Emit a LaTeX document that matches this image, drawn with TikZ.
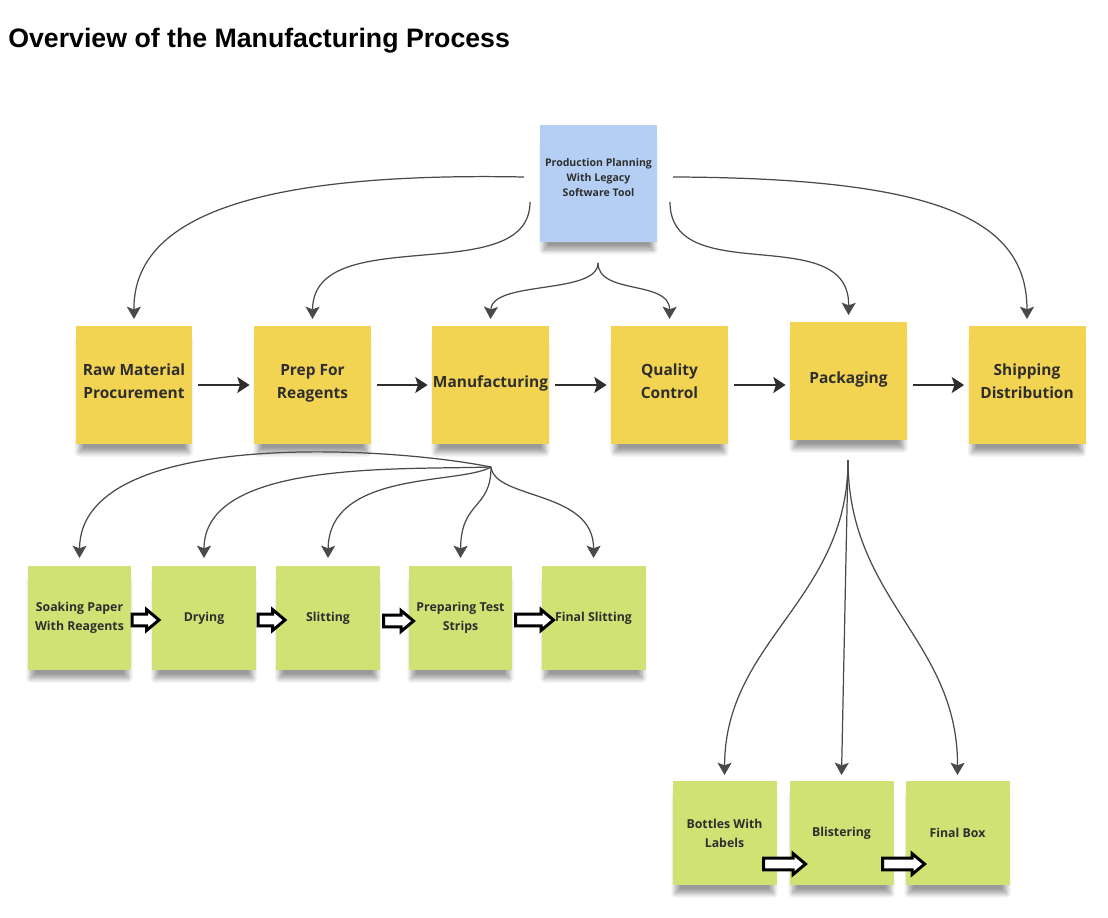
\documentclass[tikz,border=0pt]{standalone}
\usepackage{fontspec}
\newfontfamily\notefont{Open Sans}
\newfontfamily\titlefont{Liberation Sans}
\usepackage{xcolor}
\definecolor{planfill}{HTML}{B4CFF3}
\definecolor{stepfill}{HTML}{F2D352}
\definecolor{subfill}{HTML}{D1E274}
\definecolor{inkcolor}{HTML}{2E2E2E}
\definecolor{linkcolor}{HTML}{4A4A4A}
\usepackage{tikz}
\usetikzlibrary{arrows.meta,shapes.arrows,shadows.blur}
\tikzset{
    note/.style={
        rectangle,
        text=inkcolor,
        align=center,
        inner sep=0pt,
        blur shadow={shadow xshift=0pt, shadow yshift=-7pt, shadow scale=0.94,
                     shadow opacity=40, shadow blur steps=8, shadow blur radius=3pt},
    },
    planbox/.style={
        note,
        fill=planfill,
        minimum width=2.34cm,
        minimum height=2.34cm,
        text depth=6.8pt,
        font=\notefont\bfseries\fontsize{6}{8.8}\selectfont,
    },
    stepbox/.style={
        note,
        fill=stepfill,
        minimum width=2.34cm,
        minimum height=2.38cm,
        text depth=4pt,
        font=\notefont\bfseries\fontsize{8.8}{13}\selectfont,
    },
    subbox/.style={
        note,
        fill=subfill,
        minimum width=2.08cm,
        minimum height=2.08cm,
        font=\notefont\bfseries\fontsize{7}{10.8}\selectfont,
    },
    link/.style={
        -{Stealth[width=8pt,length=7pt,inset=1.5pt]},
        line width=0.7pt,
        linkcolor,
    },
    flow/.style={
        -{Stealth[width=9pt,length=7pt,inset=1.5pt]},
        line width=1.6pt,
        inkcolor,
        shorten <=3pt,
        shorten >=2.3pt,
    },
    pusharrow/.style={
        single arrow,
        draw=black,
        fill=white,
        line width=1.7pt,
        minimum height=0.54cm,
        inner sep=2.5pt,
        single arrow head extend=2.6pt,
        single arrow tip angle=80,
    },
}

\begin{document}
\begin{tikzpicture}[x=0.02cm,y=-0.02cm]
    \useasboundingbox (0,0) rectangle (1108,918);

    % Title
    \node[anchor=base west, inner sep=0pt, font=\titlefont\bfseries\fontsize{15.2}{18}\selectfont] (title) at (8,48) {Overview of the Manufacturing Process};

    % Planning note
    \node[planbox] (plan) at (598.5,183.5) {Production Planning\\With Legacy\\Software Tool};

    % Main steps
    \node[stepbox] (raw) at (134,385) {Raw Material\\Procurement};
    \node[stepbox] (prep) at (312.5,385) {Prep For\\Reagents};
    \node[stepbox] (mfg) at (490.5,385) {Manufacturing};
    \node[stepbox] (qc) at (669.5,385) {Quality\\Control};
    \node[stepbox] (pack) at (848.5,381) {Packaging};
    \node[stepbox] (ship) at (1027,385) {Shipping\\Distribution};

    % Manufacturing sub-steps
    \node[subbox] (soak) at (79.5,618) {Soaking Paper\\With Reagents};
    \node[subbox] (dry) at (204,618) {Drying};
    \node[subbox] (slit) at (328,618) {Slitting};
    \node[subbox] (strips) at (460.5,618) {Preparing Test\\Strips};
    \node[subbox] (finslit) at (593.5,618) {Final Slitting};

    % Packaging sub-steps
    \node[subbox] (bottles) at (724.5,833) {Bottles With\\Labels};
    \node[subbox] (blister) at (841.5,833) {Blistering};
    \node[subbox] (finbox) at (957.5,833) {Final Box};

    % Branch points
    \coordinate (plan-l) at (524,177);
    \coordinate (plan-ll) at (530,202);
    \coordinate (plan-fork) at (598,263);
    \coordinate (plan-rr) at (670,202);
    \coordinate (plan-r) at (673,177);
    \coordinate (mfg-fork) at (491,467);
    \coordinate (pack-fork) at (848,460);

    % Planning links
    \draw[link] (plan-l) .. controls (260,172) and (133,215) .. (raw.north |- 0,319);
    \draw[link] (plan-ll) .. controls (530,290) and (313,220) .. (prep.north |- 0,319);
    \draw[link] (plan-fork) .. controls (598,295) and (492,280) .. (mfg.north |- 0,319);
    \draw[link] (plan-fork) .. controls (598,295) and (670,280) .. (qc.north |- 0,319);
    \draw[link] (plan-rr) .. controls (670,290) and (850,220) .. (pack.north |- 0,315);
    \draw[link] (plan-r) .. controls (940,178) and (1027,220) .. (ship.north |- 0,319);

    % Main flow
    \draw[flow] (raw) -- (prep);
    \draw[flow] (prep) -- (mfg);
    \draw[flow] (mfg) -- (qc);
    \draw[flow] (qc.east) -- (pack.west |- qc.east);
    \draw[flow] (pack.east |- ship.west) -- (ship.west);

    % Manufacturing links
    \draw[link] (mfg-fork) .. controls (380,445) and (80,430) .. (soak.north |- 0,558);
    \draw[link] (mfg-fork) .. controls (400,470) and (204,460) .. (dry.north |- 0,558);
    \draw[link] (mfg-fork) .. controls (460,485) and (329,470) .. (slit.north |- 0,558);
    \draw[link] (mfg-fork) .. controls (491,510) and (461,500) .. (strips.north |- 0,558);
    \draw[link] (mfg-fork) .. controls (495,500) and (594,490) .. (finslit.north |- 0,558);

    % Packaging links
    \draw[link] (pack-fork) .. controls (848,600) and (725,640) .. (bottles.north |- 0,775);
    \draw[link] (pack-fork) -- (blister.north |- 0,775);
    \draw[link] (pack-fork) .. controls (848,600) and (958,640) .. (finbox.north |- 0,775);

    % Push arrows
    \node[pusharrow] (push1) at (142,620) {};
    \node[pusharrow] (push2) at (268,620) {};
    \node[pusharrow, minimum height=0.6cm] (push3) at (395,621) {};
    \node[pusharrow, minimum height=0.76cm] (push4) at (531,620) {};
    \node[pusharrow, minimum height=0.84cm] (push5) at (781,864) {};
    \node[pusharrow, minimum height=0.84cm] (push6) at (900,864) {};
\end{tikzpicture}
\end{document}
